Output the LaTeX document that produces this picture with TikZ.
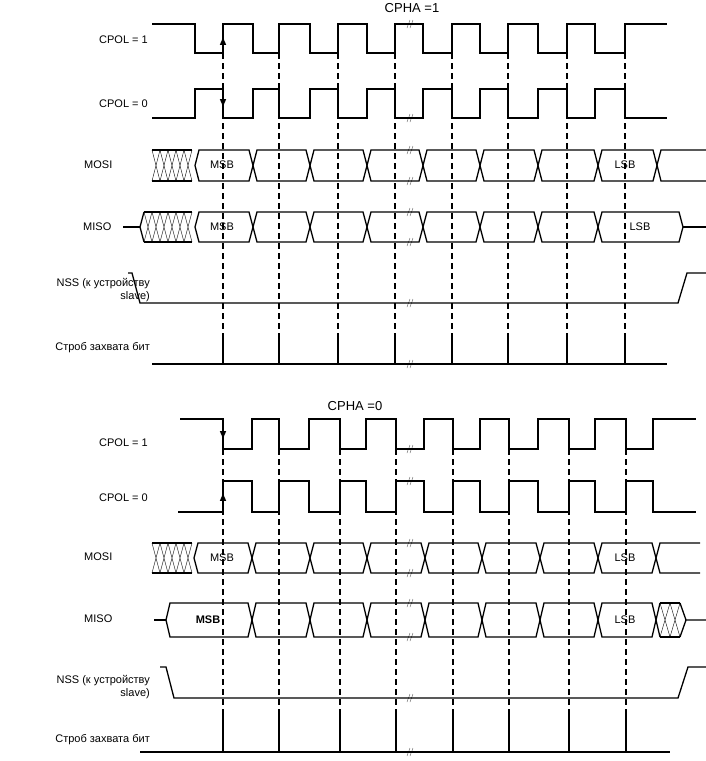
\documentclass[tikz,border=0pt]{standalone}
\usepackage{fontspec}
\setmainfont{Liberation Sans}
\usetikzlibrary{arrows.meta,positioning,calc}

% one bus cell between two crossings: #1 top, #2 bottom, #3 left x, #4 right x
\newcommand\buscell[4]{\draw[sig] ({#3},{(#1+#2)/2}) -- ({#3+4},#1) -- ({#4-4},#1) -- ({#4},{(#1+#2)/2}) -- ({#4-4},#2) -- ({#3+4},#2) -- cycle;}
% hatched (unknown) region: #1 top, #2 bottom, #3 left x, #4 cells, #5 cell width
\newcommand\hatch[5]{\draw[sig] ({#3},#1) -- ({#3+#4*#5},#1) ({#3},#2) -- ({#3+#4*#5},#2);
  \foreach \i in {1,...,#4} {\pgfmathsetmacro\hx{#3+#5*(\i-1)}
    \draw[thin] (\hx,#1) -- ({\hx+#5},#2) (\hx,#2) -- ({\hx+#5},#1);}}
% break mark
\newcommand\brk[1]{\draw[very thin] (407,{#1+4}) -- (410,{#1-4}) (410,{#1+4}) -- (413,{#1-4});}

\begin{document}
\begin{tikzpicture}[x=1pt, y=-1pt, >=Latex,
    sig/.style={line width=1.3pt, line join=miter},
    grid/.style={line width=1.3pt, dash pattern=on 6pt off 4pt},
    lbl/.style={font=\fontsize{11}{13}\selectfont, inner sep=0pt, anchor=east},
    bit/.style={font=\fontsize{11}{13}\selectfont, inner sep=0pt},
    every node/.style={inner sep=0pt}]
  \useasboundingbox (0,0) rectangle (706,761);

  % ---------- CPHA = 1 ----------
  \node[font=\fontsize{13}{15}\selectfont] (ttop) at (412,8) {CPHA =1};
  \node[lbl] (c1a) at (148,40) {CPOL = 1};
  \node[lbl] (c0a) at (148,104) {CPOL = 0};
  \node[lbl,anchor=west] (mosia) at (84,165) {MOSI};
  \node[lbl,anchor=west] (misoa) at (83,227) {MISO};
  \node[lbl,align=right] (nssa) at (150,290) {NSS (к устройству\\slave)};
  \node[lbl] (stra) at (150,348) {Строб захвата бит};

  % clocks
  \draw[sig] (152,24) -| (195,53) -| (223,24) -| (253,53) -| (279,24) -| (310,53) -| (338,24) -| (367,53) -| (395,24) -| (423,53) -| (452,24) -| (480,53) -| (508,24) -| (538,53) -| (567,24) -| (595,53) -| (625,24) -- (667,24);
  \draw[sig] (152,118) -| (195,89) -| (223,118) -| (253,89) -| (279,118) -| (310,89) -| (338,118) -| (367,89) -| (395,118) -| (423,89) -| (452,118) -| (480,89) -| (508,118) -| (538,89) -| (567,118) -| (595,89) -| (625,118) -- (667,118);
  \draw[sig,->] (223,53) -- (223,36);
  \draw[sig,->] (223,89) -- (223,108);

  % MOSI
  \hatch{150}{181}{152}{5}{8}
  \foreach \a/\b in {195/253,253/310,310/367,367/423,423/480,480/538,538/598,598/657}
    {\buscell{150}{181}{\a}{\b}}
  \draw[sig] (657,165) -- (661,150) -- (706,150) (657,165) -- (661,181) -- (706,181);
  \node[bit] (msb1) at (222,165) {MSB};
  \node[bit] (lsb1) at (625,165) {LSB};

  % MISO
  \draw[sig] (123,227) -- (140,227);
  \draw[sig] (140,227) -- (144,212) (140,227) -- (144,242);
  \hatch{212}{242}{144}{6}{8}
  \foreach \a/\b in {195/253,253/310,310/367,367/423,423/480,480/538,538/598,598/683}
    {\buscell{212}{242}{\a}{\b}}
  \draw[sig] (683,227) -- (706,227);
  \node[bit] (msb2) at (222,227) {MSB};
  \node[bit] (lsb2) at (640,227) {LSB};

  % NSS
  \draw[sig] (128,273) -- (132,273) -- (140,303) -- (678,303) -- (687,273) -- (706,273);

  % strobe
  \draw[sig] (152,364) -- (667,364);
  \foreach \x in {223,279,338,395,452,508,567,625} {
    \draw[sig] (\x,364) -- (\x,333);
    \draw[grid] (\x,53) -- (\x,333);
  }
  \foreach \y in {24,118,150,181,212,242,303,364} {\brk{\y}}

  % ---------- CPHA = 0 ----------
  \node[font=\fontsize{13}{15}\selectfont] (tbot) at (355,406) {CPHA =0};
  \node[lbl] (c1b) at (148,443) {CPOL = 1};
  \node[lbl] (c0b) at (148,498) {CPOL = 0};
  \node[lbl,anchor=west] (mosib) at (84,557) {MOSI};
  \node[lbl,anchor=west] (misob) at (84,619) {MISO};
  \node[lbl,align=right] (nssb) at (150,687) {NSS (к устройству\\slave)};
  \node[lbl] (strb) at (150,740) {Строб захвата бит};

  % clocks
  \draw[sig] (180,419) -| (223,449) -| (252,419) -| (279,449) -| (309,419) -| (340,449) -| (366,419) -| (396,449) -| (424,419) -| (453,449) -| (480,419) -| (509,449) -| (538,419) -| (569,449) -| (595,419) -| (626,449) -| (653,419) -- (696,419);
  \draw[sig] (178,512) -| (223,481) -| (252,512) -| (279,481) -| (309,512) -| (340,481) -| (366,512) -| (396,481) -| (424,512) -| (453,481) -| (480,512) -| (509,481) -| (538,512) -| (569,481) -| (595,512) -| (626,481) -| (653,512) -- (696,512);
  \draw[sig,->] (223,419) -- (223,440);
  \draw[sig,->] (223,512) -- (223,492);

  % MOSI
  \hatch{543}{573}{152}{5}{8}
  \foreach \a/\b in {194/252,252/310,310/367,367/425,425/482,482/540,540/598,598/656}
    {\buscell{543}{573}{\a}{\b}}
  \draw[sig] (656,558) -- (660,543) -- (700,543) (656,558) -- (660,573) -- (700,573);
  \node[bit] (msb3) at (222,558) {MSB};
  \node[bit] (lsb3) at (625,558) {LSB};

  % MISO
  \draw[sig] (154,620) -- (166,620);
  \foreach \a/\b in {166/252,252/310,310/367,367/425,425/482,482/540,540/598,598/656}
    {\buscell{603}{637}{\a}{\b}}
  \draw[sig] (656,620) -- (660,603) (656,620) -- (660,637);
  \hatch{603}{637}{660}{2}{10}
  \draw[sig] (680,603) -- (686,620) -- (680,637) (686,620) -- (706,620);
  \node[bit,font=\fontsize{11}{13}\selectfont\bfseries] (msb4) at (208,620) {MSB};
  \node[bit] (lsb4) at (625,620) {LSB};

  % NSS
  \draw[sig] (160,667) -- (166,667) -- (174,698) -- (678,698) -- (688,667) -- (706,667);

  % strobe
  \draw[sig] (140,752) -- (670,752);
  \foreach \x in {223,279,340,396,453,509,569,626} {
    \draw[sig] (\x,752) -- (\x,712);
    \draw[grid] (\x,449) -- (\x,712);
  }
  \foreach \y in {449,481,543,573,603,637,698,752} {\brk{\y}}
\end{tikzpicture}
\end{document}
